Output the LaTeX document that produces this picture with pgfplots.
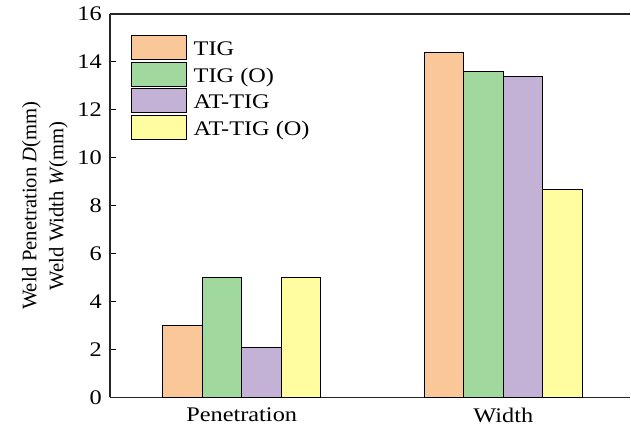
\documentclass[border=0pt]{standalone}
\usepackage{fontspec}
\setmainfont[FakeStretch=1.17]{Liberation Serif}
\newfontfamily\ylabfont{Liberation Serif}
\usepackage{pgfplots}
\pgfplotsset{compat=1.18}
\definecolor{cTIG}{RGB}{250,200,152}
\definecolor{cTIGO}{RGB}{160,216,158}
\definecolor{cAT}{RGB}{195,177,214}
\definecolor{cATO}{RGB}{255,253,160}
\begin{document}
\begin{tikzpicture}[font=\fontsize{20.8bp}{25bp}\selectfont]
\begin{axis}[
  scale only axis,
  width=521bp, height=384bp,
  xmin=-0.5038, xmax=1.4847,
  ymin=0, ymax=16,
  ytick={0,2,...,16},
  xtick={0,1},
  xticklabels={Penetration,Width},
  axis x line=box,
  axis y line=left,
  x axis line style={-, line width=1.6bp, draw=black!85},
  y axis line style={-, line width=1.6bp, draw=black!85},
  tick style={line width=1bp, black},
  ytick align=inside,
  major tick length=6bp,
  xtick style={draw=none},
  /pgf/number format/assume math mode=true,
  yticklabel style={inner sep=0pt, xshift=-8bp},
  xticklabel style={inner sep=0pt, yshift=-4bp},
  ylabel={Weld Penetration \textit{D}(mm)\\Weld Width \textit{W}(mm)},
  ylabel style={at={(axis description cs:-0.125,0.5)}, anchor=center, align=center, font=\fontsize{20.7bp}{27bp}\ylabfont},
  ybar=0pt,
  bar width=39.5bp,
  every axis plot/.append style={draw=black, line width=0.9bp},
  legend cell align=left,
  legend image code/.code={\draw[#1, line width=0.9bp] (0bp,-12bp) rectangle (55bp,12bp);},
  legend style={draw=none, fill=none, at={(axis description cs:0.040,0.948)}, anchor=north west,
    inner sep=0pt, row sep=0pt, column sep=7bp,
    nodes={inner sep=0pt, text height=21.5bp, text depth=5.2bp, anchor=west}},
]
\addplot[fill=cTIG] coordinates {(0,3.0) (1,14.4)};
\addplot[fill=cTIGO] coordinates {(0,5.0) (1,13.6)};
\addplot[fill=cAT] coordinates {(0,2.1) (1,13.4)};
\addplot[fill=cATO] coordinates {(0,5.0) (1,8.7)};
\legend{TIG, TIG (O), AT-TIG, AT-TIG (O)}
\end{axis}
\path[use as bounding box] ([xshift=-110bp,yshift=-30bp]current axis.south west) rectangle ([yshift=14bp]current axis.north east);
\end{tikzpicture}
\end{document}
